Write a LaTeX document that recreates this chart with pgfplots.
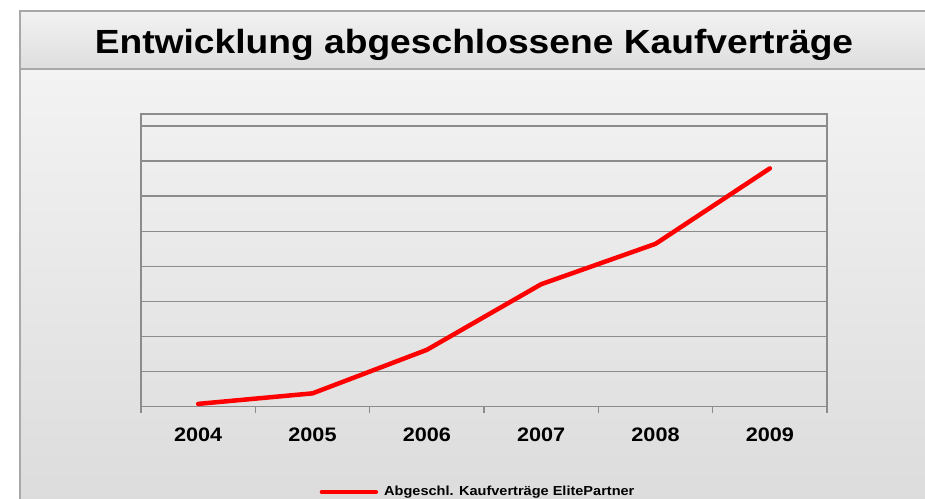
\documentclass[border=0pt]{standalone}
\usepackage{pgfplots}
\pgfplotsset{compat=1.18}
\usepackage{fontspec}
\setmainfont{Liberation Sans}[FakeStretch=1.11]
\definecolor{gridgray}{HTML}{8C8C8C}
\definecolor{framegray}{HTML}{A8A8A8}
\begin{document}
\begin{tikzpicture}[x=1pt,y=1pt]
\path[use as bounding box] (0,0) rectangle (925,498);
\begin{scope}
\clip (0,0) rectangle (925,498);
\fill[white] (0,0) rectangle (925,498);
% body
\shade[top color={rgb,255:red,243;green,243;blue,243}, bottom color={rgb,255:red,220;green,220;blue,220}] (20,-5) rectangle (935,429);
% title band
\shade[top color={rgb,255:red,242;green,242;blue,242}, bottom color={rgb,255:red,222;green,222;blue,222}] (20,429) rectangle (935,487);
\draw[framegray, line width=1.2pt] (935,487) -- (20,487) -- (20,-5);
\draw[framegray, line width=1.6pt] (20,429) -- (935,429);
\node[anchor=base, inner sep=0pt] at (474,444.7) {\fontsize{33.5}{40}\selectfont\bfseries Entwicklung abgeschlossene Kaufverträge};
\begin{axis}[
  at={(141pt,91.3pt)}, anchor=south west,
  scale only axis, width=686pt, height=292.7pt,
  xmin=-0.5, xmax=5.5, ymin=0, ymax=8.34,
  xtick={0,1,2,3,4,5},
  xticklabels={2004,2005,2006,2007,2008,2009},
  minor xtick={-0.5,0.5,1.5,2.5,3.5,4.5,5.5},
  ytick={0,1,2,3,4,5,6,7,8},
  yticklabels={},
  ymajorgrids,
  major grid style={gridgray, line width=1.3pt},
  axis line style={gridgray, line width=1.3pt},
  major tick length=0pt,
  minor tick length=6pt,
  tick align=outside,
  xtick pos=bottom, ytick pos=left,
  minor x tick style={gridgray, line width=1.3pt},
  xticklabel style={font=\fontsize{19.5}{23}\selectfont\bfseries, anchor=base, yshift=-34.3pt},
  axis background/.style={fill=none},
  legend style={at={(0.4913,-0.2914)}, anchor=center, draw=none, fill=none,
     font=\fontsize{13.1}{16}\selectfont\bfseries, inner sep=0pt, column sep=4pt,
     legend cell align=left},
  legend image code/.code={\draw[#1] (0pt,0pt) -- (54pt,0pt);},
]
\addplot[red, line width=4.5pt, line join=round, line cap=round] coordinates {
  (0,0.08) (1,0.38) (2,1.62) (3,3.49) (4,4.64) (5,6.79)
};
\addlegendentry{Abgeschl. Kaufverträge ElitePartner}
\end{axis}
\end{scope}
\end{tikzpicture}
\end{document}
